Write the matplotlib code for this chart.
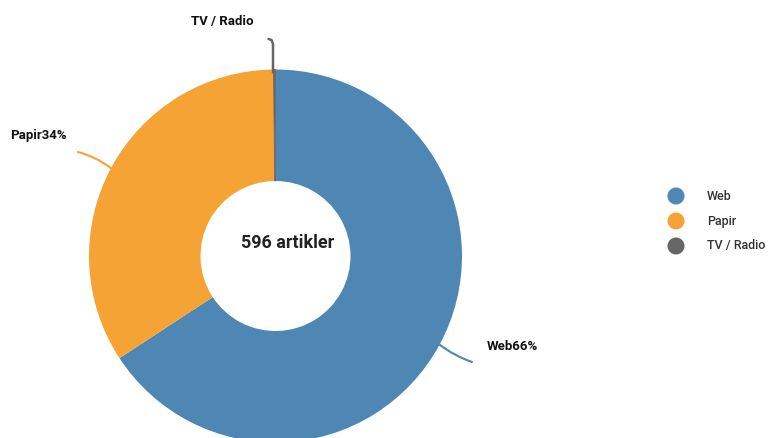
import matplotlib
matplotlib.use("Agg")
import matplotlib.pyplot as plt
import numpy as np

categories = ["Web", "Papir", "TV / Radio"]
values = [392, 203, 1]
colors = ["#4e86b4", "#f5a335", "#666666"]
total_label = "596 artikler"

plt.rcParams['font.family'] = ['Roboto', 'DejaVu Sans']

W, H = 775, 438
fig = plt.figure(figsize=(W / 100, H / 100), dpi=100)
ax = fig.add_axes([0, 0, 1, 1])

cx, cy = 275.5, H - 256
R, r_in = 186.5, 75

wedges, _ = ax.pie(values, colors=colors, startangle=90, counterclock=False,
                   radius=R, center=(cx, cy),
                   wedgeprops=dict(width=R - r_in, edgecolor='none'))
wedges[2].set_edgecolor(colors[2])
wedges[2].set_linewidth(0.6)
ax.set_xlim(0, W)
ax.set_ylim(0, H)
ax.set_aspect('equal')
ax.axis('off')

ax.text(288, H - 243, total_label, ha='center', va='center', fontsize=13,
        fontweight='bold', color='#222222')

tot = sum(values)
pct = [round(v / tot * 100) for v in values]
labels = [f"{c}{p}%" if p > 0 else c for c, p in zip(categories, pct)]

# label text positions (pixel, top-left origin) and leader end points
text_pos = [(487, 346), (10, 136), (191, 21)]
leader_end = [(472, 362), (78, 152), (268, 40)]
rads = [0.08, 0.1, 0.0]

for i, w in enumerate(wedges):
    ang = np.deg2rad((w.theta1 + w.theta2) / 2)
    sx, sy = cx + R * np.cos(ang), cy + R * np.sin(ang)
    ex, ey = leader_end[i][0], H - leader_end[i][1]
    if i == 2:
        ax.plot([sx - 1.5, sx - 1.5, sx - 3, sx - 6], [sy - 3, H - 44, H - 40, H - 39],
                color=colors[i], lw=1.8, solid_capstyle='round', solid_joinstyle='round')
    else:
        ax.annotate("", xy=(ex, ey), xytext=(sx, sy),
                    arrowprops=dict(arrowstyle='-', color=colors[i], lw=1.5,
                                    connectionstyle=f"arc3,rad={rads[i]}",
                                    shrinkA=0, shrinkB=0))
    tx, ty = text_pos[i]
    ax.text(tx, H - ty, labels[i], ha='left', va='center', fontsize=9.5,
            fontweight='bold', color='#111111')

# legend
for i, (c, col) in enumerate(zip(categories, colors)):
    y = H - (196 + 25 * i)
    ax.scatter([676], [y], s=150, color=col, edgecolors='none')
    ax.text(707, y, c, ha='left', va='center', fontsize=9, color='#333333',
            fontweight='medium')

fig.savefig("out.png", dpi=100)
